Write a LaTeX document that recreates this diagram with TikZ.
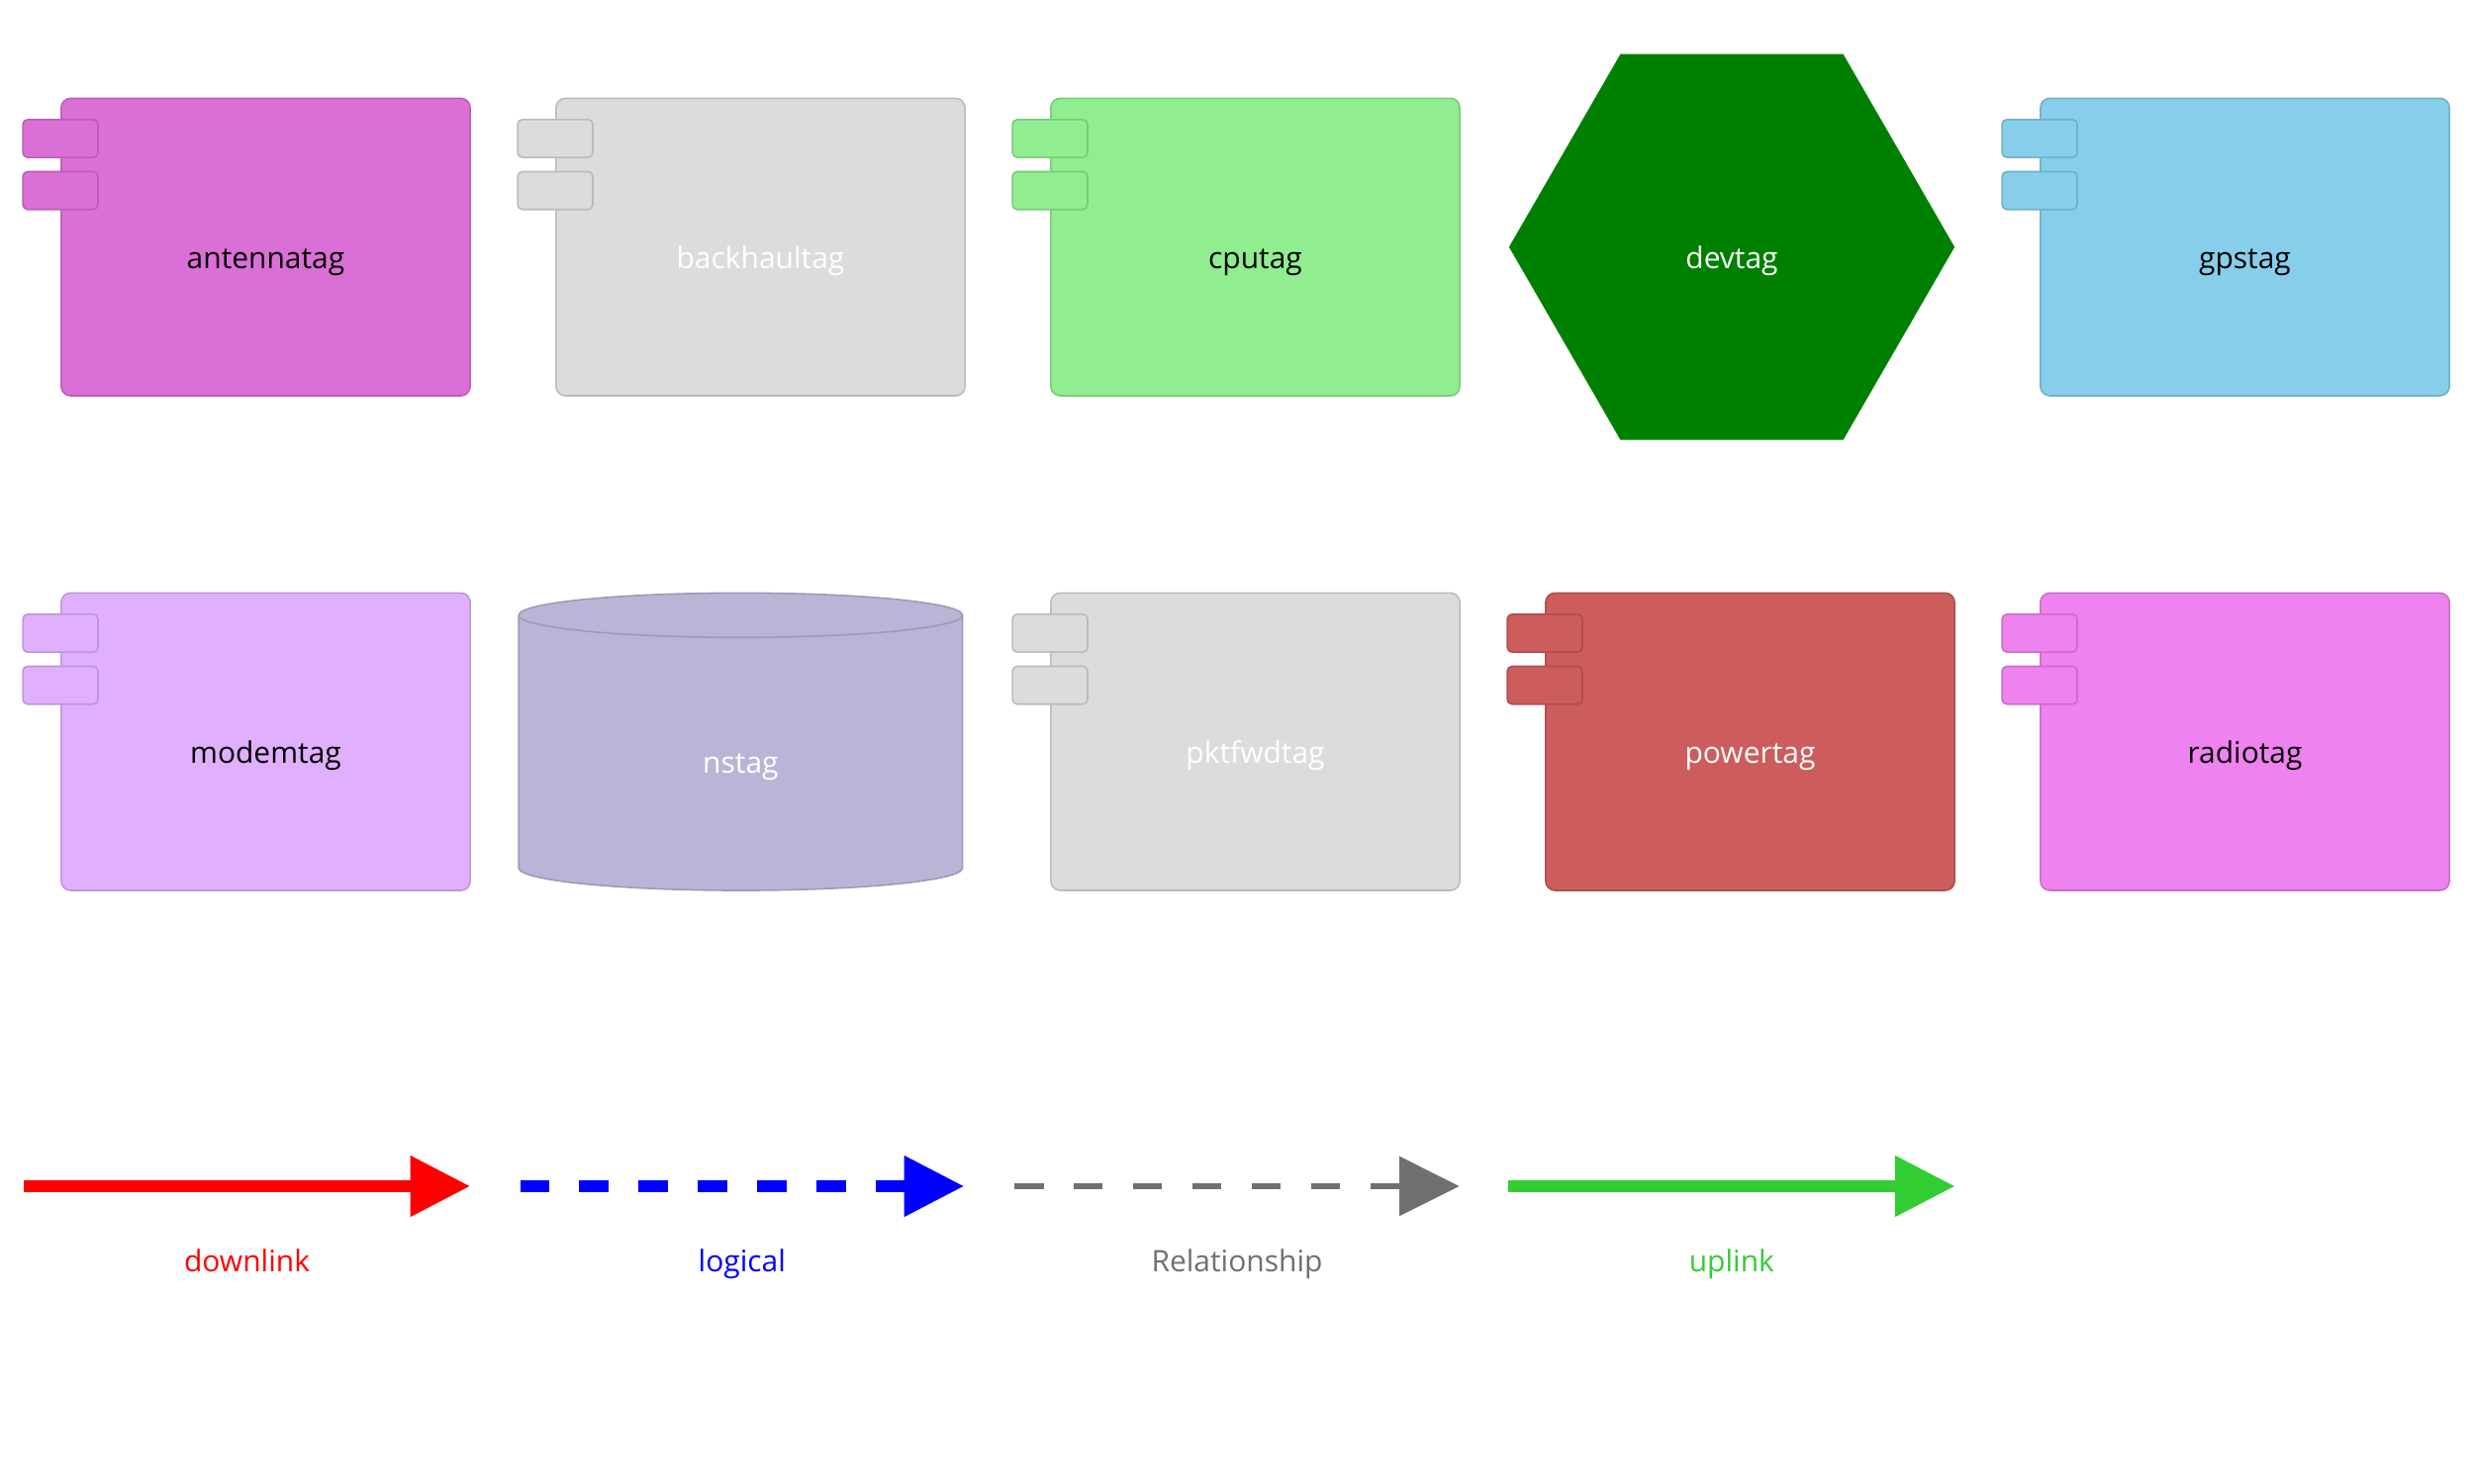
\documentclass[tikz,border=0pt]{standalone}
\usepackage{fontspec}
\setmainfont{Open Sans}
\usetikzlibrary{calc, positioning, shapes, arrows.meta}

\definecolor{antennacol}{HTML}{DA70D6}
\definecolor{backhaulcol}{HTML}{DCDCDC}
\definecolor{cpucol}{HTML}{90EE90}
\definecolor{devcol}{HTML}{008000}
\definecolor{gpscol}{HTML}{87CEEB}
\definecolor{modemcol}{HTML}{E0B0FF}
\definecolor{nscol}{HTML}{BCB4D7}
\definecolor{powercol}{HTML}{CD5C5C}
\definecolor{radiocol}{HTML}{EE82EE}
\definecolor{relcol}{HTML}{707070}
\definecolor{upcol}{HTML}{32CD32}

\tikzset{
	comp/.style={rectangle, rounded corners=3pt, line width=0.5pt, minimum width=129.6pt, minimum height=94.3pt, inner sep=0pt},
	comptab/.style={rectangle, rounded corners=1.5pt, line width=0.5pt, minimum width=23.8pt, minimum height=12pt, inner sep=0pt},
	lbl/.style={font=\fontsize{9.4}{11}\selectfont, anchor=base, inner sep=0pt},
	legendarrow/.style={line width=3.6pt, -{Triangle[length=19pt,width=18.5pt]}},
	legsolid/.style={},
	legdash/.style={dash pattern=on 9.2pt off 9.6pt},
	legrel/.style={line width=1.8pt, dash pattern=on 9.2pt off 9.6pt},
}

\begin{document}
\begin{tikzpicture}[x=0.5pt, y=-0.5pt]
		
		\useasboundingbox (0,0) rectangle (1568,940.8);
		
		% Components
		\foreach \n/\x/\y/\f/\t/\lab in {antenna/168.4/156.6/antennacol/black/antennatag,
			backhaul/482/156.6/backhaulcol/white/backhaultag,
			cpu/795.6/156.6/cpucol/black/cputag,
			gps/1422.8/156.6/gpscol/black/gpstag,
			modem/168.4/470.2/modemcol/black/modemtag,
			pktfwd/795.6/470.2/backhaulcol/white/pktfwdtag,
			power/1109.2/470.2/powercol/white/powertag,
			radio/1422.8/470.2/radiocol/black/radiotag}
		{
			\node[comp, fill=\f, draw=\f!85!black] (\n) at (\x,\y) {};
			\node[comptab, fill=\f, draw=\f!85!black] (\n-t1) at ([yshift=-13pt]\n.north west) {};
			\node[comptab, fill=\f, draw=\f!85!black] (\n-t2) at ([yshift=-29.5pt]\n.north west) {};
			\node[lbl, text=\t] (\n-l) at ([yshift=-6.7pt]\n.center) {\lab};
		}
		
		% Device
		\node[regular polygon, regular polygon sides=6, minimum size=141.2pt, inner sep=0pt, fill=devcol] (dev) at (1097.6,156.6) {};
		\node[lbl, text=white] (dev-l) at ([yshift=-6.7pt]dev.center) {devtag};
		
		% Name server
		\draw[fill=nscol, draw=nscol!85!black, line width=0.5pt] (328.8,390) -- (328.8,550.3)
		arc[start angle=180, end angle=0, x radius=140.6, y radius=14.2] -- (610,390)
		arc[start angle=0, end angle=-180, x radius=140.6, y radius=14.1] -- cycle;
		\draw[draw=nscol!85!black, line width=0.5pt] (328.8,390) arc[start angle=180, end angle=0, x radius=140.6, y radius=14.1];
		\coordinate (ns) at (469.4,470.2);
		\node[lbl, text=white] (ns-l) at ([yshift=-10pt]ns) {nstag};
		
		% Legend
		\foreach \n/\xa/\xb/\c/\s/\lab in {down/15/298/red/legsolid/downlink,
			logic/329.6/611/blue/legdash/logical,
			rel/643/925/relcol/legrel/Relationship,
			up/956/1239/upcol/legsolid/uplink}
		{
			\coordinate (\n-s) at (\xa,752);
			\coordinate (\n-e) at (\xb,752);
			\draw[legendarrow, color=\c, \s] (\n-s) -- (\n-e);
			\node[lbl, text=\c] (\n-l) at ($(\n-s)!0.5!(\n-e)+(0,54.4)$) {\lab};
		}
		
	\end{tikzpicture}
\end{document}
